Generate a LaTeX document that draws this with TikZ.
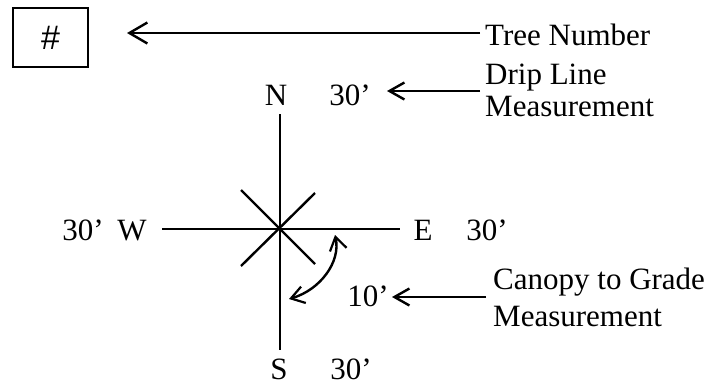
\documentclass[tikz,border=0pt]{standalone}
\usepackage{fontspec}
\setmainfont{Liberation Serif}
\newfontfamily\hashfont{Liberation Sans}
\usetikzlibrary{arrows.meta}
\begin{document}
\begin{tikzpicture}[x=1pt,y=-1pt,
  lbl/.style={inner sep=0pt,font=\fontsize{31}{32}\selectfont},
  ln/.style={line width=2.4pt},
  bigarr/.style={ln,-{Straight Barb[length=18pt,width=21pt,line width=2.4pt]}},
  smallarr/.style={ln,-{Straight Barb[length=15pt,width=17pt,line width=2.4pt]}},
  dblarr/.style={ln,{Straight Barb[length=13pt,width=17pt,line width=2.2pt]}-{Straight Barb[length=13pt,width=17pt,line width=2.2pt]}}]
\useasboundingbox (0,0) rectangle (715,386);
% tree number box
\node[draw,line width=2pt,minimum width=75pt,minimum height=59pt,inner sep=0pt] (box) at (50.5,37.5) {\hashfont\fontsize{34}{34}\selectfont\#};
% labels right
\node[lbl,anchor=base west] (tree) at (485,45) {Tree Number};
\node[lbl,anchor=base west] (drip) at (485,84) {Drip Line};
\node[lbl,anchor=base west] (drip2) at (485,116) {Measurement};
\node[lbl,anchor=base west] (canopy) at (493,289) {Canopy to Grade};
\node[lbl,anchor=base west] (canopy2) at (493,326) {Measurement};
% compass letters
\node[lbl,anchor=base] (N) at (276,105) {N};
\node[lbl,anchor=base] (Nv) at (350,105) {30’};
\node[lbl,anchor=base] (W) at (132,240) {W};
\node[lbl,anchor=base] (Wv) at (83,240) {30’};
\node[lbl,anchor=base] (E) at (423,240) {E};
\node[lbl,anchor=base] (Ev) at (487,240) {30’};
\node[lbl,anchor=base] (S) at (279,379) {S};
\node[lbl,anchor=base] (Sv) at (351,379) {30’};
\node[lbl,anchor=base] (C) at (368,306) {10’};
% compass lines
\coordinate (c) at (280,229);
\coordinate (ntop) at (280,114);
\coordinate (sbot) at (280,350);
\coordinate (wend) at (162,229);
\coordinate (eend) at (400,229);
\draw[ln] (ntop) -- (sbot);
\draw[ln] (wend) -- (eend);
\draw[ln] (241,190) -- (315,264);
\draw[ln] (315,193) -- (241,266);
% curved double arrow
\coordinate (a1) at (335,235);
\coordinate (a2) at (289,299);
\draw[dblarr] (a1) .. controls (341,262) and (320,290) .. (a2);
% pointer arrows
\coordinate (t1) at (480,33);
\coordinate (t2) at (127,33);
\draw[bigarr] (t1) -- (t2);
\coordinate (d1) at (480,91);
\coordinate (d2) at (387,91);
\draw[smallarr] (d1) -- (d2);
\coordinate (g1) at (486,297);
\coordinate (g2) at (392,297);
\draw[smallarr] (g1) -- (g2);
\end{tikzpicture}
\end{document}
